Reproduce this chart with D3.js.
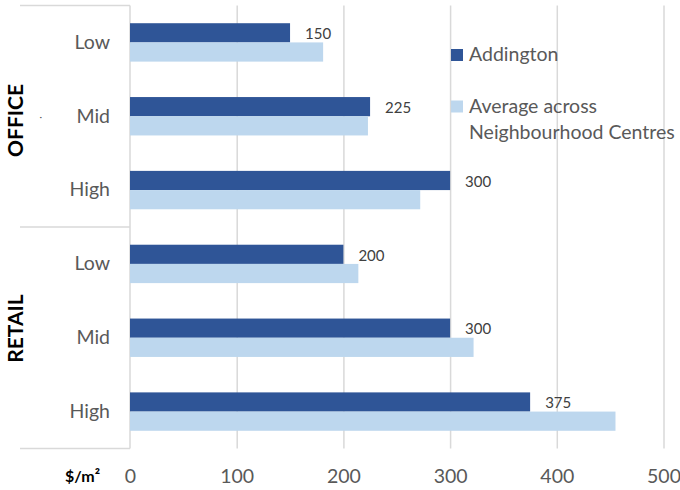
<!DOCTYPE html>
<html>
<head>
<meta charset="utf-8">
<script src="https://cdn.jsdelivr.net/npm/d3@7"></script>
<style>
  html, body { margin: 0; padding: 0; background: #fff; }
  svg { display: block; font-family: Lato, "Open Sans", sans-serif; }
</style>
</head>
<body>
<svg id="chart" width="680" height="490"></svg>
<script>
// ---- data ----
const groups = ["OFFICE", "RETAIL"];
const levels = ["Low", "Mid", "High"];
const seriesNames = ["Addington", "Average across Neighbourhood Centres"];
const addington = [150, 225, 300, 200, 300, 375];
const average = [181, 223, 272, 214, 322, 455];
const xTicks = [0, 100, 200, 300, 400, 500];
const unitLabel = "$/m²";

const colors = ["#2F5597", "#BDD7EE"];

const rows = [];
groups.forEach((g, gi) => levels.forEach((l, li) => {
  const i = gi * levels.length + li;
  rows.push({ key: g + "|" + l, group: g, level: l, values: [addington[i], average[i]] });
}));

const svg = d3.select("#chart");
const pLeft = 130, pRight = 663.5, pTop = 5.5, pBottom = 448.5;

const x = d3.scaleLinear().domain([0, 500]).range([pLeft, pRight]);
const y = d3.scaleBand().domain(rows.map(r => r.key)).range([pTop, pBottom])
  .paddingInner(0.48).paddingOuter(0.24);
const ySub = d3.scaleBand().domain([0, 1]).range([0, y.bandwidth()]);

// gridlines + tick labels
const xAxis = d3.axisBottom(x).tickValues(xTicks).tickSize(-(pBottom - pTop)).tickPadding(20.5);
const gx = svg.append("g").attr("transform", `translate(0,${pBottom})`).call(xAxis);
gx.select(".domain").remove();
gx.selectAll(".tick line").attr("stroke", "#d9d9d9").attr("stroke-width", 1.5)
  .filter(d => d === 0).remove();
gx.selectAll(".tick text").attr("fill", "#595959").attr("font-size", "19.5px")
  .attr("font-family", "Lato, sans-serif");

// vertical category axis line
svg.append("line").attr("x1", pLeft).attr("x2", pLeft).attr("y1", pTop).attr("y2", pBottom)
  .attr("stroke", "#d9d9d9").attr("stroke-width", 1.5);

// group separators (multi-level category axis)
const sepYs = [pTop, (y(rows[2].key) + y.bandwidth() + y(rows[3].key)) / 2, pBottom];
svg.selectAll("line.sep").data(sepYs).enter().append("line").attr("class", "sep")
  .attr("x1", 20).attr("x2", pLeft).attr("y1", d => d).attr("y2", d => d)
  .attr("stroke", "#d9d9d9").attr("stroke-width", 1.5);

// bars
const rowG = svg.selectAll("g.row").data(rows).enter().append("g").attr("class", "row")
  .attr("transform", d => `translate(0,${y(d.key)})`);
rowG.selectAll("rect").data(d => d.values.map((v, i) => ({ v, i }))).enter().append("rect")
  .attr("x", x(0)).attr("y", d => ySub(d.i))
  .attr("width", d => x(d.v) - x(0)).attr("height", ySub.bandwidth())
  .attr("fill", d => colors[d.i]);

// data labels (Addington only)
rowG.append("text")
  .attr("x", d => x(d.values[0]) + 15)
  .attr("y", ySub(0) + ySub.bandwidth() / 2 + 1)
  .attr("dy", "0.35em")
  .attr("fill", "#404040").attr("font-size", "15px")
  .text(d => d.values[0]);

// level labels
const yAxis = d3.axisLeft(y).tickSize(0).tickPadding(20).tickFormat(k => k.split("|")[1]);
const gy = svg.append("g").attr("transform", `translate(${pLeft},0)`).call(yAxis);
gy.select(".domain").remove();
gy.selectAll(".tick text").attr("fill", "#595959").attr("font-size", "19.5px")
  .attr("font-family", "Lato, sans-serif");

// group labels
const groupCenters = { OFFICE: 120.5, RETAIL: 328.5 };
svg.selectAll("text.grp").data(groups).enter().append("text").attr("class", "grp")
  .attr("transform", d => `translate(15.5,${groupCenters[d]}) rotate(-90)`)
  .attr("text-anchor", "middle").attr("dy", "0.36em")
  .attr("font-weight", "bold").attr("font-size", "21px").attr("fill", "#000")
  .text(d => d);

// stray dot
svg.append("text").attr("x", 40.7).attr("y", 116).attr("dy", "0.35em")
  .attr("text-anchor", "middle").attr("font-size", "10px").attr("fill", "#595959").text("·");

// unit label
svg.append("text").attr("x", 82.5).attr("y", 482).attr("text-anchor", "middle")
  .attr("font-weight", "bold").attr("font-size", "16px").attr("fill", "#000")
  .text(unitLabel);

// legend
const legend = svg.append("g");
const legendItems = [
  { lines: ["Addington"], y: 49 },
  { lines: ["Average across", "Neighbourhood Centres"], y: 100.5 }
];
legendItems.forEach((it, i) => {
  legend.append("rect").attr("x", 451).attr("y", it.y).attr("width", 12).attr("height", 12)
    .attr("fill", colors[i]);
  it.lines.forEach((ln, j) => {
    legend.append("text").attr("x", 469).attr("y", it.y + 12 + j * 26.5)
      .attr("fill", "#595959").attr("font-size", "19.5px").text(ln);
  });
});
</script>
</body>
</html>
